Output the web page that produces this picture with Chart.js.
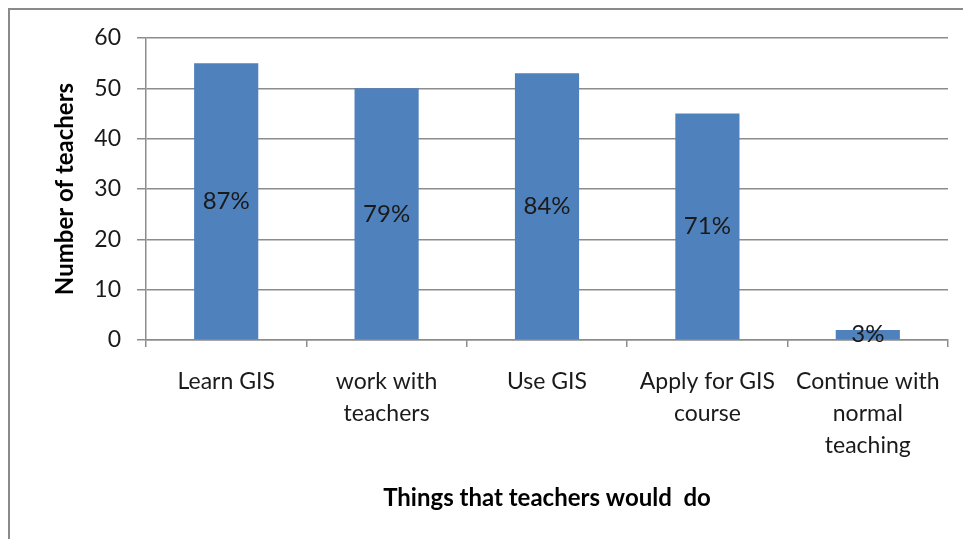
<!DOCTYPE html>
<html>
<head>
<meta charset="utf-8">
<script src="https://cdn.jsdelivr.net/npm/chart.js@4"></script>
<style>
  html, body { margin: 0; padding: 0; background: #fff; }
  #wrap { position: relative; width: 963px; height: 539px; overflow: hidden; }
  #frame {
    position: absolute; left: 8px; top: 8px; width: 980px; height: 560px;
    border-left: 2px solid #8a8a8a; border-top: 2px solid #8a8a8a;
  }
  canvas { position: absolute; left: 0; top: 0; }
</style>
</head>
<body>
<div id="wrap">
  <div id="frame"></div>
  <canvas id="chartTeachers" width="963" height="539"></canvas>
</div>
<script>
// survey answers
const categories = [
  "Learn GIS",
  ["work with", "teachers"],
  "Use GIS",
  ["Apply for GIS", "course"],
  ["Continue with", "normal", "teaching"]
];
const teachers = [55, 50, 53, 45, 2];
const totalTeachers = 63;
const yTicks = [0, 10, 20, 30, 40, 50, 60];

const FONT = "Lato, 'Open Sans', sans-serif";
const GRID = "#8c8c8c";

// percent labels in the middle of each bar
const percentLabels = {
  id: "percentLabels",
  afterDatasetsDraw(chart) {
    const ctx = chart.ctx;
    const meta = chart.getDatasetMeta(0);
    ctx.save();
    ctx.font = "24px " + FONT;
    ctx.fillStyle = "#1a1a1a";
    ctx.textAlign = "center";
    ctx.textBaseline = "middle";
    meta.data.forEach((bar, i) => {
      const pct = Math.round(teachers[i] / totalTeachers * 100) + "%";
      const mid = (bar.y + bar.base) / 2;
      ctx.fillText(pct, bar.x, Math.min(mid, bar.base - 4));
    });
    ctx.restore();
  }
};

const ctx = document.getElementById("chartTeachers");
new Chart(ctx, {
  type: "bar",
  data: {
    labels: categories,
    datasets: [{
      data: teachers,
      backgroundColor: "#4f81bd",
      borderWidth: 0,
      categoryPercentage: 1,
      barPercentage: 0.4
    }]
  },
  options: {
    responsive: false,
    animation: false,
    layout: { padding: { left: 40, top: 38, right: 15, bottom: 0 } },
    plugins: {
      legend: { display: false },
      tooltip: { enabled: false }
    },
    scales: {
      x: {
        afterFit(scale) { scale.height = 199; },
        grid: {
          offset: true,
          drawOnChartArea: false,
          color: GRID,
          tickLength: 7,
          lineWidth: 1.5
        },
        border: { color: GRID, width: 1.5 },
        ticks: {
          color: "#1a1a1a",
          font: { family: FONT, size: 23, lineHeight: 1.39 },
          padding: 19,
          maxRotation: 0,
          autoSkip: false
        },
        title: {
          display: true,
          text: "Things that teachers would  do",
          color: "#000",
          font: { family: FONT, size: 24, weight: "bold" },
          padding: { top: 0, bottom: 26 }
        }
      },
      y: {
        min: 0,
        max: 60,
        afterFit(scale) { scale.width = 106; },
        afterBuildTicks(scale) { scale.ticks = yTicks.map(v => ({ value: v })); },
        grid: {
          color: GRID,
          tickLength: 9,
          lineWidth: 1.5
        },
        border: { color: GRID, width: 1.5 },
        ticks: {
          color: "#1a1a1a",
          font: { family: FONT, size: 23 },
          padding: 16
        },
        title: {
          display: true,
          text: "Number of teachers",
          color: "#000",
          font: { family: FONT, size: 24, weight: "bold" },
          padding: { top: 11, bottom: 0 }
        }
      }
    }
  },
  plugins: [percentLabels]
});
</script>
</body>
</html>
